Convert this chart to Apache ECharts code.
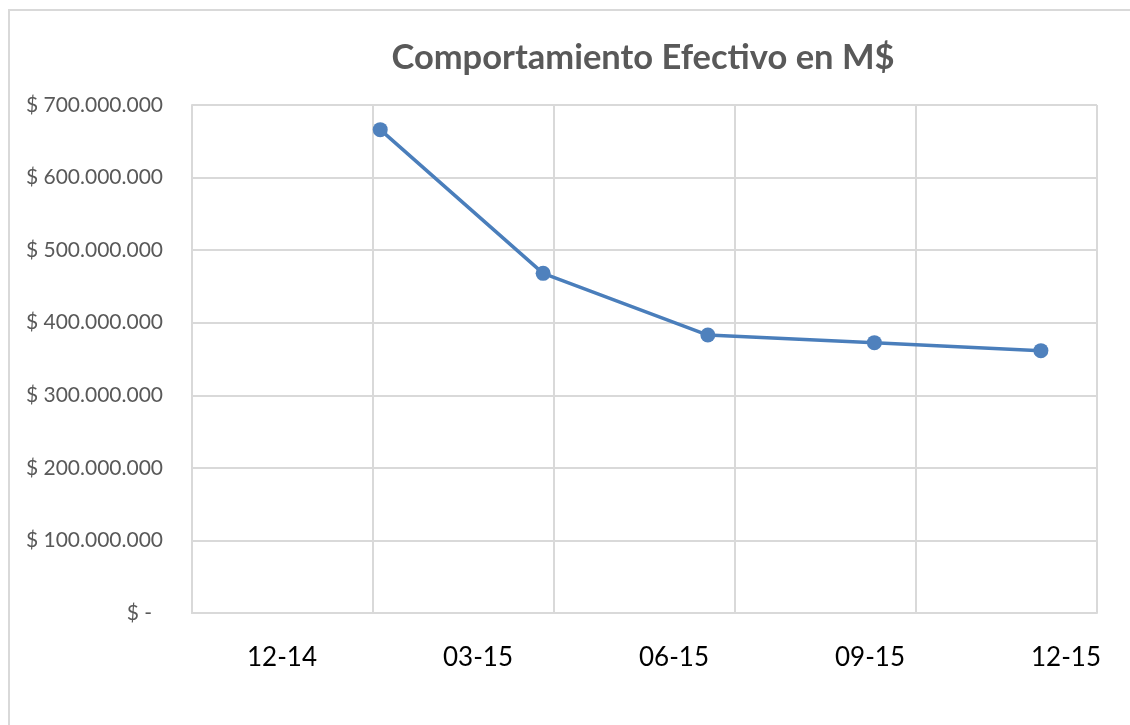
<!DOCTYPE html>
<html>
<head>
<meta charset="utf-8">
<script src="https://cdn.jsdelivr.net/npm/echarts@6/dist/echarts.min.js"></script>
<style>
  html, body { margin: 0; padding: 0; background: #ffffff; }
  #chart { width: 1130px; height: 725px; }
</style>
</head>
<body>
<div id="chart"></div>
<script>
// ---- data ----
const titleText = 'Comportamiento Efectivo en M$';
const dates = ['2014-12-31', '2015-03-31', '2015-06-30', '2015-09-30', '2015-12-31'];
const categories = ['12-14', '03-15', '06-15', '09-15', '12-15'];
const values = [666000000, 468000000, 383000000, 372500000, 361500000];
const yTicks = [0, 100000000, 200000000, 300000000, 400000000, 500000000, 600000000, 700000000];

// date axis origin (axis starts here, spans 500 days, gridline every 100 days)
const axisStart = '2014-09-18';
const axisSpanDays = 500;
const axisStepDays = 100;

function dayOffset(d) {
  return Math.round((Date.parse(d) - Date.parse(axisStart)) / 86400000);
}
const seriesData = dates.map((d, i) => [dayOffset(d), values[i]]);

function fmtMoney(v) {
  if (v === 0) return '{z|$ -}';
  const s = String(Math.round(v)).replace(/\B(?=(\d{3})+(?!\d))/g, '.');
  return '$ ' + s;
}

const grey = '#d9d9d9';
const chart = echarts.init(document.getElementById('chart'));
chart.setOption({
  animation: false,
  backgroundColor: '#ffffff',
  textStyle: { fontFamily: 'Lato' },
  title: {
    text: titleText,
    left: 638,
    top: 35,
    textAlign: 'center',
    textStyle: { fontFamily: 'Lato', fontWeight: 'bold', fontSize: 34.5, color: '#595959' }
  },
  graphic: [{
    type: 'rect',
    shape: { x: 9, y: 10, width: 1300, height: 900 },
    style: { fill: 'none', stroke: grey, lineWidth: 2 },
    silent: true,
    z: -1
  }],
  grid: [
    { left: 192, right: 33, top: 105, bottom: 112 },
    { left: 282, right: 64, top: 612, height: 1 }
  ],
  xAxis: [{
    gridIndex: 0,
    type: 'value',
    min: 0,
    max: axisSpanDays,
    interval: axisStepDays,
    axisLine: { show: true, lineStyle: { color: grey, width: 2 } },
    axisTick: { show: false },
    axisLabel: { show: false },
    splitLine: { show: true, lineStyle: { color: grey, width: 2 } }
  }, {
    gridIndex: 1,
    type: 'category',
    boundaryGap: false,
    data: categories,
    axisLine: { show: false },
    axisTick: { show: false },
    axisLabel: { color: '#000000', fontSize: 26, fontFamily: 'Lato', margin: 32, interval: 0 },
    splitLine: { show: false }
  }],
  yAxis: [{
    gridIndex: 0,
    type: 'value',
    min: 0,
    max: 700000000,
    interval: 100000000,
    axisLine: { show: true, lineStyle: { color: grey, width: 2 } },
    axisTick: { show: false },
    axisLabel: {
      color: '#595959',
      fontSize: 21,
      fontFamily: 'Lato',
      margin: 29,
      formatter: fmtMoney,
      rich: { z: { color: '#595959', fontSize: 21, fontFamily: 'Lato', padding: [0, 11, 0, 0] } }
    },
    splitLine: { show: true, lineStyle: { color: grey, width: 2 } }
  }, {
    gridIndex: 1,
    type: 'value',
    show: false
  }],
  series: [{
    type: 'line',
    xAxisIndex: 0,
    yAxisIndex: 0,
    data: seriesData,
    symbol: 'circle',
    symbolSize: 15,
    lineStyle: { color: '#4a7ebb', width: 3.5 },
    itemStyle: { color: '#4f81bd' }
  }]
});
</script>
</body>
</html>
